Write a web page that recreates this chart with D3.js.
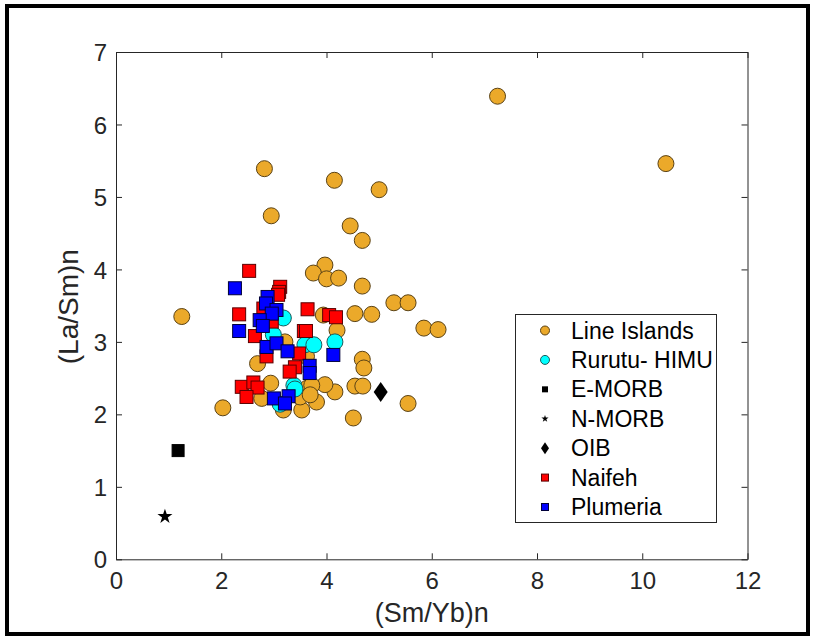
<!DOCTYPE html>
<html>
<head>
<meta charset="utf-8">
<script src="https://cdn.jsdelivr.net/npm/d3@7"></script>
<style>
  body { margin: 0; background: #fff; }
  text { font-family: "Liberation Sans", Arial, sans-serif; }
</style>
</head>
<body>
<svg id="chart" width="815" height="640"></svg>
<script>
// series values, [ (Sm/Yb)n, (La/Sm)n ]
let lineIslands = [
  [7.25, 6.39], [10.45, 5.46], [2.82, 5.39], [4.15, 5.23], [5.0, 5.10],
  [2.95, 4.74], [4.45, 4.60], [4.68, 4.40], [1.25, 3.35], [3.97, 4.06],
  [3.75, 3.95], [4.0, 3.87], [4.23, 3.88], [4.68, 3.77], [4.54, 3.39],
  [4.86, 3.38], [5.28, 3.54], [5.55, 3.54], [5.85, 3.19], [6.12, 3.17],
  [3.94, 3.37], [4.20, 3.16], [4.68, 2.76], [4.71, 2.64], [2.69, 2.70],
  [3.21, 3.00], [3.62, 2.80], [4.54, 2.39], [4.69, 2.39], [4.16, 2.31],
  [3.97, 2.41], [3.81, 2.17], [3.53, 2.06], [2.03, 2.09], [2.94, 2.43],
  [2.77, 2.22], [3.63, 2.36], [3.72, 2.40], [4.51, 1.95], [5.55, 2.15],
  [3.18, 2.06], [3.50, 2.24], [3.69, 2.27]
];
let rurutu = [
  [3.18, 3.33], [2.99, 3.10], [3.59, 2.96], [3.76, 2.96], [4.16, 3.00],
  [3.38, 2.40], [3.40, 2.35], [3.12, 2.14]
];
let eMorb = [[1.18, 1.50]];
let nMorb = [[0.93, 0.59]];
let oib = [[5.03, 2.31]];
let naifeh = [
  [2.53, 3.98], [3.12, 3.76], [3.10, 3.69], [3.08, 3.65], [2.34, 3.38],
  [2.80, 3.46], [2.96, 3.28], [3.64, 3.45], [4.05, 3.37], [4.18, 3.34],
  [2.64, 3.08], [3.57, 3.15], [3.61, 3.15], [3.48, 2.84], [2.86, 2.80],
  [3.40, 2.65], [3.30, 2.59], [2.39, 2.38], [2.61, 2.44], [2.69, 2.37],
  [2.48, 2.24]
];
let plumeria = [
  [2.26, 3.74], [2.88, 3.62], [2.85, 3.53], [3.05, 3.44], [2.96, 3.39],
  [2.34, 3.15], [2.73, 3.30], [2.79, 3.22], [2.86, 2.93], [3.05, 2.98],
  [3.26, 2.87], [4.13, 2.82], [3.68, 2.67], [3.68, 2.57], [3.00, 2.22],
  [3.28, 2.25], [3.21, 2.15]
];

let xTicks = [0, 2, 4, 6, 8, 10, 12];
let yTicks = [0, 1, 2, 3, 4, 5, 6, 7];
let legendNames = ["Line Islands", "Rurutu- HIMU", "E-MORB", "N-MORB", "OIB", "Naifeh", "Plumeria"];

let svg = d3.select("#chart");

// outer frame
svg.append("rect")
    .attr("x", 7).attr("y", 6)
    .attr("width", 801).attr("height", 628)
    .attr("fill", "none")
    .attr("stroke", "#000")
    .attr("stroke-width", 4);

let pLeft = 116, pRight = 747.5, pTop = 52, pBottom = 559.3;

let x = d3.scaleLinear().domain([0, 12]).range([pLeft, pRight]);
let y = d3.scaleLinear().domain([0, 7]).range([pBottom, pTop]);

let axisColor = "#262626";
let fmt = d3.format("d");

// axes with inward ticks (box on)
function styleAxis(g) {
    g.select(".domain").attr("stroke", axisColor);
    g.selectAll(".tick line").attr("stroke", axisColor);
    g.selectAll(".tick text")
        .attr("fill", axisColor)
        .style("font-size", "24px")
        .style("font-family", "Liberation Sans, Arial, sans-serif");
}

svg.append("g")
    .attr("transform", "translate(0," + pBottom + ")")
    .call(d3.axisBottom(x).tickValues(xTicks).tickFormat(fmt).tickSize(-6).tickSizeOuter(0))
    .call(styleAxis)
    .call(g => g.selectAll(".tick text").attr("y", 30).attr("dy", 0));

svg.append("g")
    .attr("transform", "translate(0," + pTop + ")")
    .call(d3.axisTop(x).tickValues(xTicks).tickSize(-6).tickFormat("").tickSizeOuter(0))
    .call(styleAxis);

svg.append("g")
    .attr("transform", "translate(" + pLeft + ",0)")
    .call(d3.axisLeft(y).tickValues(yTicks).tickFormat(fmt).tickSize(-6).tickSizeOuter(0))
    .call(styleAxis)
    .call(g => g.selectAll(".tick text").attr("x", -9).attr("dy", "0.36em"));

svg.append("g")
    .attr("transform", "translate(" + pRight + ",0)")
    .call(d3.axisRight(y).tickValues(yTicks).tickSize(-6).tickFormat("").tickSizeOuter(0))
    .call(styleAxis);

// axis labels
svg.append("text")
    .attr("x", (pLeft + pRight) / 2).attr("y", 622)
    .attr("text-anchor", "middle")
    .attr("fill", axisColor)
    .style("font-size", "27px")
    .text("(Sm/Yb)n");

svg.append("text")
    .attr("transform", "translate(78," + ((pTop + pBottom) / 2 + 1) + ") rotate(-90)")
    .attr("text-anchor", "middle")
    .attr("fill", axisColor)
    .style("font-size", "28px")
    .text("(La/Sm)n");

let plot = svg.append("g");

function circles(data, fill, edge) {
    plot.append("g").selectAll("circle")
        .data(data).enter().append("circle")
        .attr("cx", d => x(d[0]))
        .attr("cy", d => y(d[1]))
        .attr("r", 8)
        .attr("fill", fill)
        .attr("stroke", edge)
        .attr("stroke-width", 1);
}

function squares(data, fill, s, edge) {
    plot.append("g").selectAll("rect")
        .data(data).enter().append("rect")
        .attr("x", d => x(d[0]) - s / 2)
        .attr("y", d => y(d[1]) - s / 2)
        .attr("width", s).attr("height", s)
        .attr("fill", fill)
        .attr("stroke", edge)
        .attr("stroke-width", 1);
}

circles(lineIslands, "#EBA92A", "#5a4215");
circles(rurutu, "#00FFFF", "#1d5a5a");

squares(eMorb, "#000", 12, "#000");

plot.append("g").selectAll("path")
    .data(nMorb).enter().append("path")
    .attr("transform", d => "translate(" + x(d[0]) + "," + y(d[1]) + ")")
    .attr("d", d3.symbol(d3.symbolStar, 70))
    .attr("fill", "#000");

plot.append("g").selectAll("path")
    .data(oib).enter().append("path")
    .attr("transform", d => "translate(" + x(d[0]) + "," + y(d[1]) + ")")
    .attr("d", "M0,-10L7,0L0,10L-7,0Z")
    .attr("fill", "#000");

squares(naifeh, "#FF0000", 13, "#5a0000");
squares(plumeria, "#0000FF", 13, "#00003a");

// legend
let lg = svg.append("g");
lg.append("rect")
    .attr("x", 515.5).attr("y", 314.5)
    .attr("width", 201).attr("height", 208)
    .attr("fill", "#fff")
    .attr("stroke", "#262626")
    .attr("stroke-width", 1);

let ly = d3.scalePoint().domain(legendNames).range([330.5, 507]);
let mx = 545;

legendNames.forEach(function (name, i) {
    let cy = ly(name);
    let g = lg.append("g").attr("transform", "translate(" + mx + "," + cy + ")");
    if (i === 0) {
        g.append("circle").attr("r", 4.5).attr("fill", "#EBA92A").attr("stroke", "#5a4215");
    } else if (i === 1) {
        g.append("circle").attr("r", 4.5).attr("fill", "#00FFFF").attr("stroke", "#1d5a5a");
    } else if (i === 2) {
        g.append("rect").attr("x", -3).attr("y", -3).attr("width", 6).attr("height", 6).attr("fill", "#000");
    } else if (i === 3) {
        g.append("path").attr("d", d3.symbol(d3.symbolStar, 16)).attr("fill", "#000");
    } else if (i === 4) {
        g.append("path").attr("d", "M0,-6L4,0L0,6L-4,0Z").attr("fill", "#000");
    } else if (i === 5) {
        g.append("rect").attr("x", -3.5).attr("y", -3.5).attr("width", 7).attr("height", 7).attr("fill", "#FF0000").attr("stroke", "#5a0000");
    } else {
        g.append("rect").attr("x", -3.5).attr("y", -3.5).attr("width", 7).attr("height", 7).attr("fill", "#0000FF").attr("stroke", "#00003a");
    }
    lg.append("text")
        .attr("x", 571).attr("y", cy)
        .attr("dy", "0.35em")
        .attr("fill", "#000")
        .style("font-size", "23px")
        .text(name);
});
</script>
</body>
</html>
